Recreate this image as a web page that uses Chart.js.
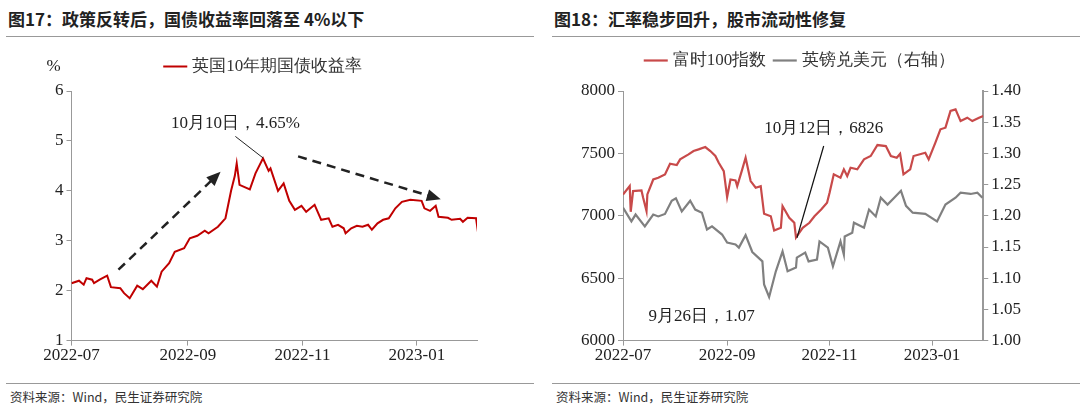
<!DOCTYPE html>
<html>
<head>
<meta charset="utf-8">
<script src="https://cdn.jsdelivr.net/npm/chart.js@4/dist/chart.umd.min.js"></script>
<style>
  body { margin: 0; background: #fff; width: 1080px; height: 414px; overflow: hidden; font-family: "Noto Sans CJK SC", sans-serif; }
  .panel { position: absolute; top: 0; width: 528px; height: 414px; }
  .title { position: absolute; left: 2px; top: 6px; font-size: 17px; font-weight: bold; color: #222; }
  .rule { position: absolute; left: 0; right: 0; height: 1px; background: #999; }
  .src { position: absolute; left: 4px; top: 387px; font-size: 12.5px; color: #333; }
  .box { position: absolute; left: 0; top: 40px; width: 528px; height: 342px; }
</style>
</head>
<body>
<div class="panel" style="left:6px">
  <div class="title">图17：政策反转后，国债收益率回落至 4%以下</div>
  <div class="rule" style="top:36px"></div>
  <div class="box"><canvas id="c1"></canvas></div>
  <div class="rule" style="top:383px"></div>
  <div class="src">资料来源：Wind，民生证券研究院</div>
</div>
<div class="panel" style="left:552px">
  <div class="title">图18：汇率稳步回升，股市流动性修复</div>
  <div class="rule" style="top:36px"></div>
  <div class="box"><canvas id="c2"></canvas></div>
  <div class="rule" style="top:383px"></div>
  <div class="src">资料来源：Wind，民生证券研究院</div>
</div>
<script>
// x values are days since 2022-07-01
const tickDays = [0, 62, 123, 184];
const tickLabels = ['2022-07', '2022-09', '2022-11', '2023-01'];

const giltDays = [0,4,6.5,8,11,12,15,19,21,26,28,31,35,38,42.5,45.5,48,52,55,60,63,67,71,73,78,82,85,87,88,89.5,95,98,102,105,106,110,113,116,119,122.5,125,129.5,133,137,139,142,145,146,149,152,155,158,160,163,166,169,172.5,176,180.5,186.5,188,191,194,195.5,200.5,202.5,207,208.5,211,215.5,216.5];
const giltYield = [2.15,2.2,2.12,2.25,2.22,2.15,2.22,2.3,2.07,2.05,1.95,1.85,2.1,2.03,2.2,2.08,2.38,2.55,2.78,2.85,3.05,3.1,3.2,3.15,3.28,3.45,4.0,4.3,4.55,4.12,4.03,4.35,4.65,4.4,4.45,4.0,4.15,3.8,3.62,3.7,3.58,3.72,3.42,3.45,3.28,3.32,3.25,3.15,3.25,3.3,3.28,3.32,3.22,3.35,3.42,3.45,3.65,3.78,3.82,3.8,3.65,3.6,3.7,3.48,3.46,3.42,3.44,3.38,3.46,3.45,3.18];

const ftseDays = [0,4,4.6,6,11,12,14,14.5,18,21,25,28,32,34,39,42,45,49,52,55,57,60,62,64,67,68,71,73,76,79,82,84,88,90,94,95,99,102,103,107,111,114,118,121.5,123,125.5,129.5,131.5,133.5,135.5,139.5,143.5,147.5,151.5,156.5,159.5,163,165,167,171,173,180,182,186,189,192,195,198,201,205,208,212,214.5];
const ftse = [7171,7238,7032,7198,7203,7144,7037,7171,7291,7305,7332,7417,7406,7452,7492,7519,7532,7551,7519,7479,7425,7358,7150,7291,7283,7238,7372,7465,7278,7225,7238,7016,6996,6882,6904,7078,6984,6944,6826,6904,6944,6996,7051,7104,7184,7332,7305,7372,7318,7385,7372,7452,7479,7567,7559,7479,7465,7497,7332,7372,7479,7505,7452,7586,7693,7706,7840,7853,7759,7786,7759,7786,7800];

const gbpDays = [0,5,7.5,13,18,21,25,29,31.5,35,40,43,47,50,53,59,62,67,69,73,77,83,84,87,91,95,98,103,103.5,108.5,110.5,115.5,117,122,125,129.5,131.5,132,136.5,137.5,143.5,146.5,150.5,153.5,157.5,161.5,165.5,168.5,172.5,180,187,192,198,201,207,211,214];
const gbpusd = [1.213,1.191,1.202,1.183,1.202,1.199,1.203,1.224,1.228,1.207,1.224,1.210,1.205,1.178,1.183,1.170,1.157,1.154,1.149,1.169,1.142,1.127,1.090,1.070,1.111,1.143,1.111,1.117,1.133,1.141,1.127,1.130,1.159,1.149,1.119,1.159,1.138,1.167,1.173,1.189,1.181,1.210,1.199,1.229,1.218,1.229,1.240,1.216,1.205,1.203,1.191,1.218,1.229,1.237,1.235,1.237,1.229];

const serif = '"Times New Roman", "Liberation Serif", "DejaVu Serif", serif';
const pts = (xs, ys) => xs.map((x, i) => ({ x, y: ys[i] }));
const tickFont = { family: serif, size: 17 };

const xAxis = max => ({
  type: 'linear', min: 0, max,
  afterBuildTicks: axis => { axis.ticks = tickDays.map(v => ({ value: v })); },
  ticks: { callback: v => tickLabels[tickDays.indexOf(v)], font: tickFont, color: '#222', maxRotation: 0, padding: 0 },
  grid: { drawOnChartArea: false, color: '#999', tickLength: 5 },
  border: { color: '#999' }
});

const legendGap = gap => ({
  id: 'legendGap',
  beforeInit(chart) {
    const fit = chart.legend.fit;
    chart.legend.fit = function () { fit.bind(chart.legend)(); this.height += gap; };
  }
});

const arrow = (ctx, x1, y1, x2, y2) => {
  ctx.save();
  ctx.strokeStyle = '#222'; ctx.fillStyle = '#222'; ctx.lineWidth = 2.5;
  ctx.setLineDash([9, 6]);
  const a = Math.atan2(y2 - y1, x2 - x1);
  ctx.beginPath(); ctx.moveTo(x1, y1); ctx.lineTo(x2 - 10 * Math.cos(a), y2 - 10 * Math.sin(a)); ctx.stroke();
  ctx.setLineDash([]);
  ctx.beginPath();
  ctx.moveTo(x2, y2);
  ctx.lineTo(x2 - 14 * Math.cos(a) + 6 * Math.sin(a), y2 - 14 * Math.sin(a) - 6 * Math.cos(a));
  ctx.lineTo(x2 - 14 * Math.cos(a) - 6 * Math.sin(a), y2 - 14 * Math.sin(a) + 6 * Math.cos(a));
  ctx.fill();
  ctx.restore();
};

const notes1 = {
  id: 'notes1',
  afterDatasetsDraw(chart) {
    const { ctx, scales: { x, y } } = chart;
    ctx.save();
    ctx.font = '17px ' + serif; ctx.fillStyle = '#222'; ctx.textAlign = 'center'; ctx.textBaseline = 'middle';
    ctx.fillText('10月10日，4.65%', x.getPixelForValue(87.3), y.getPixelForValue(5.34));
    ctx.fillText('%', x.left - 18, y.top - 24);
    ctx.strokeStyle = '#222'; ctx.lineWidth = 1;
    ctx.beginPath(); ctx.moveTo(x.getPixelForValue(87.3), y.getPixelForValue(5.09)); ctx.lineTo(x.getPixelForValue(102), y.getPixelForValue(4.66)); ctx.stroke();
    ctx.restore();
    arrow(ctx, x.getPixelForValue(25), y.getPixelForValue(2.42), x.getPixelForValue(79.4), y.getPixelForValue(4.38));
    arrow(ctx, x.getPixelForValue(120.7), y.getPixelForValue(4.69), x.getPixelForValue(196.7), y.getPixelForValue(3.83));
  }
};

const notes2 = {
  id: 'notes2',
  afterDatasetsDraw(chart) {
    const { ctx, scales: { x, y } } = chart;
    ctx.save();
    ctx.font = '17px ' + serif; ctx.fillStyle = '#222'; ctx.textAlign = 'center'; ctx.textBaseline = 'middle';
    ctx.fillText('10月12日，6826', x.getPixelForValue(119.5), y.getPixelForValue(7700));
    ctx.fillText('9月26日，1.07', x.getPixelForValue(46.8), y.getPixelForValue(6195));
    ctx.strokeStyle = '#111'; ctx.lineWidth = 1.2;
    ctx.beginPath(); ctx.moveTo(x.getPixelForValue(119.5), y.getPixelForValue(7559)); ctx.lineTo(x.getPixelForValue(103.6), y.getPixelForValue(6824)); ctx.stroke();
    ctx.restore();
  }
};

const legendOpts = {
  position: 'top',
  labels: { usePointStyle: true, pointStyle: 'line', boxWidth: 40, font: { family: serif, size: 17 }, color: '#333', padding: 10 }
};

new Chart(document.getElementById('c1'), {
  type: 'line',
  data: { datasets: [{ label: '英国10年期国债收益率', data: pts(giltDays, giltYield), borderColor: '#c00000', backgroundColor: '#c00000', borderWidth: 2, pointRadius: 0, tension: 0 }] },
  options: {
    responsive: true, maintainAspectRatio: false, animation: false,
    layout: { padding: { left: 46, right: 57, top: 8, bottom: 16 } },
    plugins: { legend: legendOpts, tooltip: { enabled: false } },
    scales: {
      x: xAxis(216),
      y: { min: 1, max: 6, ticks: { stepSize: 1, font: tickFont, color: '#222' }, grid: { drawOnChartArea: false, color: '#999', tickLength: 5 }, border: { color: '#999' } }
    }
  },
  plugins: [notes1, legendGap(6)]
});

new Chart(document.getElementById('c2'), {
  type: 'line',
  data: { datasets: [
    { label: '富时100指数', data: pts(ftseDays, ftse), borderColor: '#c84a4a', backgroundColor: '#c84a4a', borderWidth: 2.2, pointRadius: 0, yAxisID: 'y' },
    { label: '英镑兑美元（右轴）', data: pts(gbpDays, gbpusd), borderColor: '#808080', backgroundColor: '#808080', borderWidth: 2.2, pointRadius: 0, yAxisID: 'y1' }
  ] },
  options: {
    responsive: true, maintainAspectRatio: false, animation: false,
    layout: { padding: { left: 26, right: 56, top: 2, bottom: 16 } },
    plugins: { legend: legendOpts, tooltip: { enabled: false } },
    scales: {
      x: xAxis(214.5),
      y: { position: 'left', min: 6000, max: 8000, ticks: { stepSize: 500, callback: v => String(v), font: tickFont, color: '#222' }, grid: { drawOnChartArea: false, color: '#999', tickLength: 5 }, border: { color: '#999' } },
      y1: { position: 'right', min: 1.0, max: 1.4, ticks: { stepSize: 0.05, callback: v => v.toFixed(2), font: tickFont, color: '#222' }, grid: { drawOnChartArea: false, color: '#999', tickLength: 5 }, border: { color: '#999', width: 2 } }
    }
  },
  plugins: [notes2, legendGap(12)]
});
</script>
</body>
</html>
